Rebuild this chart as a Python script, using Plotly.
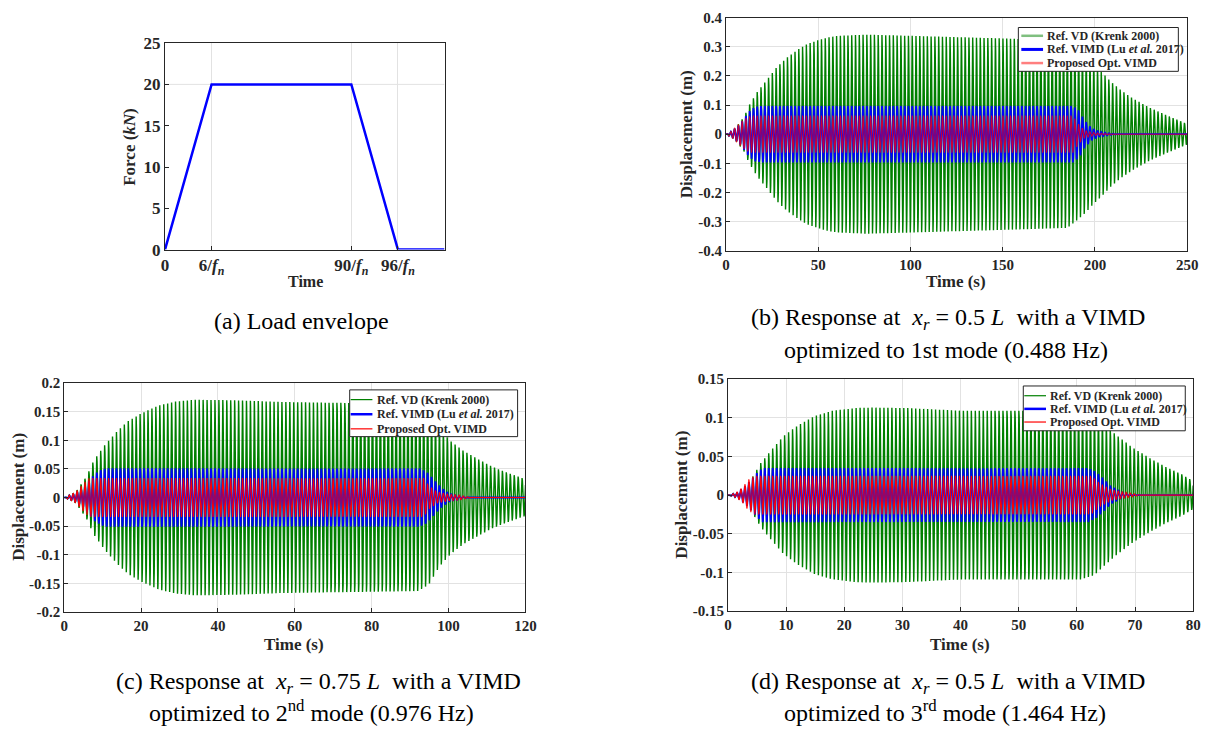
import numpy as np
import plotly.graph_objects as go

W, H = 1218, 734
SERIF = "Liberation Serif, Times New Roman, Times, serif"
INK = "#262626"
GRID = "#e2e2e2"

# ---------------- (a) load envelope on a schematic time axis ----------------
load_time_pos = [0, 1, 4, 5, 6]
load_force_kN = [0, 20, 20, 0, 0]
load_tick_pos = [0, 1, 4, 5]
load_tick_text = ["0",
                  "6/<i>f</i><sub><i>n</i></sub>",
                  "90/<i>f</i><sub><i>n</i></sub>",
                  "96/<i>f</i><sub><i>n</i></sub>"]
force_ticks = [0, 5, 10, 15, 20, 25]

# ---------------- modal frequencies (Hz) and record lengths (s) ----------------
freq_b, freq_c, freq_d = 0.488, 0.976, 1.464
tend_b, tend_c, tend_d = 250, 120, 80

# ---------------- amplitude envelopes: time (s) / amplitude (m) ----------------
# (b) x_r = 0.5 L, 1st mode
b_vd_t = [0, 5, 10, 12.5, 17, 22, 27.5, 33, 38.6, 44, 50, 55.5, 61, 76, 100, 150, 185,
          190, 194.5, 199, 204, 208.5, 214, 220, 229, 238, 250]
b_vd_a = [0, 0.02, 0.062, 0.099, 0.146, 0.185, 0.23, 0.263, 0.289, 0.31, 0.323, 0.333, 0.338,
          0.342, 0.338, 0.329, 0.322, 0.297, 0.272, 0.241, 0.211, 0.181, 0.151, 0.125, 0.093,
          0.067, 0.035]
b_vimd_t = [0, 3, 7.5, 10, 12.5, 15.5, 19, 188, 191.5, 194, 198, 203, 208, 212, 250]
b_vimd_a = [0, 0.01, 0.034, 0.056, 0.078, 0.093, 0.097, 0.097, 0.08, 0.05, 0.022, 0.008,
            0.003, 0, 0]
b_opt_t = [0, 3, 6, 9, 12, 14, 188, 191, 194, 197, 201, 206, 210, 250]
b_opt_a = [0, 0.012, 0.03, 0.048, 0.06, 0.064, 0.064, 0.035, 0.015, 0.008, 0.004, 0.002, 0, 0]

# (c) x_r = 0.75 L, 2nd mode
c_vd_t = [0, 3, 5.8, 7.7, 10.7, 13.8, 16.5, 20, 24.6, 29, 33.6, 40, 47, 56, 69.6, 92, 94.8,
          97.5, 100.5, 104, 107.7, 111.3, 115, 120]
c_vd_a = [0, 0.01, 0.037, 0.065, 0.093, 0.116, 0.133, 0.147, 0.161, 0.168, 0.171, 0.171,
          0.17, 0.168, 0.167, 0.164, 0.153, 0.122, 0.099, 0.081, 0.067, 0.054, 0.044, 0.032]
c_vimd_t = [0, 3, 5.3, 6.7, 8, 9.8, 11, 92.5, 94.3, 95.7, 97, 98.4, 100, 102, 105, 120]
c_vimd_a = [0, 0.008, 0.02, 0.031, 0.042, 0.049, 0.051, 0.051, 0.045, 0.035, 0.025, 0.016,
            0.008, 0.004, 0, 0]
c_opt_t = [0, 3, 5, 6.5, 93.5, 95, 97, 100, 103, 106, 120]
c_opt_a = [0, 0.01, 0.025, 0.034, 0.034, 0.02, 0.01, 0.006, 0.004, 0, 0]

# (d) x_r = 0.5 L, 3rd mode
d_vd_t = [0, 2.9, 4.1, 5.6, 7.1, 9.5, 11.8, 14.8, 17.8, 22, 25, 30.9, 39.8, 48.7, 60.6, 63,
          64.8, 66.6, 69.5, 72.5, 75.4, 78, 80]
d_vd_a = [0, 0.007, 0.022, 0.041, 0.055, 0.076, 0.089, 0.102, 0.109, 0.113, 0.1135, 0.113,
          0.11, 0.11, 0.1097, 0.104, 0.091, 0.079, 0.062, 0.048, 0.036, 0.027, 0.018]
d_vimd_t = [0, 1.5, 3, 4, 4.9, 5.9, 62, 63.3, 64.5, 65.8, 67.5, 69, 80]
d_vimd_a = [0, 0.003, 0.012, 0.02, 0.028, 0.035, 0.035, 0.03, 0.022, 0.012, 0.005, 0, 0]
d_opt_t = [0, 1.3, 2.5, 3.5, 4.5, 62.5, 64, 66, 69, 71, 80]
d_opt_a = [0, 0.003, 0.01, 0.02, 0.025, 0.025, 0.015, 0.007, 0.003, 0, 0]

# ---------------- axis ticks ----------------
b_yticks = [-0.4, -0.3, -0.2, -0.1, 0, 0.1, 0.2, 0.3, 0.4]
b_xticks = [0, 50, 100, 150, 200, 250]
c_yticks = [-0.2, -0.15, -0.1, -0.05, 0, 0.05, 0.1, 0.15, 0.2]
c_xticks = [0, 20, 40, 60, 80, 100, 120]
d_yticks = [-0.15, -0.1, -0.05, 0, 0.05, 0.1, 0.15]
d_xticks = [0, 10, 20, 30, 40, 50, 60, 70, 80]

series_names = ["Ref. VD (Krenk 2000)",
                "Ref. VIMD (Lu <i>et al.</i> 2017)",
                "Proposed Opt. VIMD"]


def fx(px):
    return px / W


def fy(py):
    return 1 - py / H


def response(t_knots, amp_knots, freq, t_stop):
    """Modal response: slowly varying amplitude envelope on the modal carrier."""
    n = int(t_stop * freq * 24) + 1
    t = np.linspace(0, t_stop, n)
    env = np.interp(t, t_knots, amp_knots)
    return t, env * np.sin(2 * np.pi * freq * t)


fig = go.Figure()

# (a) load envelope
fig.add_trace(go.Scatter(x=load_time_pos, y=load_force_kN, mode="lines",
                         line=dict(color="#0000ff", width=2.5),
                         xaxis="x", yaxis="y", showlegend=False))

panels = [
    ("2", freq_b, tend_b, [(b_vd_t, b_vd_a), (b_vimd_t, b_vimd_a), (b_opt_t, b_opt_a)],
     [dict(color="rgb(0,128,0)", width=1.4),
      dict(color="rgb(0,0,255)", width=1.8),
      dict(color="rgba(255,0,0,0.8)", width=1.1)]),
    ("3", freq_c, tend_c, [(c_vd_t, c_vd_a), (c_vimd_t, c_vimd_a), (c_opt_t, c_opt_a)],
     [dict(color="rgb(0,128,0)", width=1.4),
      dict(color="rgb(0,0,255)", width=1.8),
      dict(color="rgb(255,0,0)", width=1.1)]),
    ("4", freq_d, tend_d, [(d_vd_t, d_vd_a), (d_vimd_t, d_vimd_a), (d_opt_t, d_opt_a)],
     [dict(color="rgb(0,128,0)", width=1.4),
      dict(color="rgb(0,0,255)", width=1.8),
      dict(color="rgb(255,0,0)", width=1.1)]),
]

for ax, f, tend, envs, styles in panels:
    for (tk, ak), st, nm in zip(envs, styles, series_names):
        t, y = response(tk, ak, f, tend)
        fig.add_trace(go.Scatter(x=t, y=y, mode="lines", line=st, name=nm,
                                 xaxis="x" + ax, yaxis="y" + ax, showlegend=False,
                                 hoverinfo="skip"))

tick_font = dict(family=SERIF, size=15, color=INK, weight="bold")


def base_axis(dom, rng, ticks, anchor, font=tick_font, grid=True):
    return dict(domain=dom, range=rng, tickvals=ticks,
                ticktext=[f"{v:g}" for v in ticks], anchor=anchor,
                showline=True, linecolor=INK, linewidth=1, mirror=True,
                ticks="inside", ticklen=4, tickcolor=INK,
                showgrid=grid, gridcolor=GRID, gridwidth=1, zeroline=False,
                tickfont=font)


a_font = dict(family=SERIF, size=17, color=INK, weight="bold")
xa = base_axis([fx(163), fx(446)], [0, 6], load_tick_pos, "y", font=a_font)
xa["ticktext"] = load_tick_text
ya = base_axis([fy(247), fy(35)], [0, 25], force_ticks, "x", font=a_font, grid=False)

layout = dict(
    width=W, height=H, margin=dict(l=0, r=0, t=0, b=0),
    paper_bgcolor="white", plot_bgcolor="white",
    font=dict(family=SERIF),
    xaxis=xa, yaxis=ya,
    xaxis2=base_axis([fx(731), fx(1198)], [0, tend_b], b_xticks, "y2"),
    yaxis2=base_axis([fy(248), fy(9)], [-0.4, 0.4], b_yticks, "x2"),
    xaxis3=base_axis([fx(61), fx(528)], [0, tend_c], c_xticks, "y3"),
    yaxis3=base_axis([fy(619), fy(384)], [-0.2, 0.2], c_yticks, "x3"),
    xaxis4=base_axis([fx(733), fx(1204)], [0, tend_d], d_xticks, "y4"),
    yaxis4=base_axis([fy(618), fy(380)], [-0.15, 0.15], d_yticks, "x4"),
)
fig.update_layout(**layout)

shapes = []
annotations = []

# single horizontal reference line at the plateau level of the load envelope
shapes.append(dict(type="line", xref="x", yref="y", x0=0, x1=6, y0=20, y1=20,
                   line=dict(color=GRID, width=1), layer="below"))


def text(x, y, s, size, bold=True, angle=0, anchor="center"):
    annotations.append(dict(x=fx(x), y=fy(y), xref="paper", yref="paper", text=s,
                            showarrow=False, xanchor=anchor, yanchor="middle",
                            textangle=angle,
                            font=dict(family=SERIF, size=size, color=INK if bold else "black",
                                      weight="bold" if bold else "normal")))


# axis titles
text(127, 141, "Force (<i>kN</i>)", 17, angle=-90)
text(305, 280, "Time", 16)
text(691, 128, "Displacement (m)", 17, angle=-90)
text(964, 280, "Time (s)", 17)
text(14, 501, "Displacement (m)", 17, angle=-90)
text(294, 652, "Time (s)", 17)
text(686, 499, "Displacement (m)", 17, angle=-90)
text(968, 652, "Time (s)", 17)


# legends
def legend(box, rows, line_x, text_x, styles):
    shapes.append(dict(type="rect", xref="paper", yref="paper",
                       x0=fx(box[0]), x1=fx(box[2]), y0=fy(box[3]), y1=fy(box[1]),
                       line=dict(color=INK, width=1), fillcolor="white", layer="above"))
    for y, st, nm in zip(rows, styles, series_names):
        shapes.append(dict(type="line", xref="paper", yref="paper",
                           x0=fx(line_x[0]), x1=fx(line_x[1]), y0=fy(y), y1=fy(y),
                           line=st, layer="above"))
        text(text_x, y, nm, 12, anchor="left")


legend((1027, 19, 1189, 64), [27.5, 41.5, 55.5], (1030, 1052), 1054,
       [dict(color="rgba(0,128,0,0.5)", width=2.5), dict(color="#0000ff", width=3),
        dict(color="rgba(255,0,0,0.5)", width=2.5)])
legend((350, 391, 520, 439), [401, 416, 431], (351, 373), 376,
       [dict(color="rgb(0,128,0)", width=1.2), dict(color="#0000ff", width=2.5),
        dict(color="#ff0000", width=1.2)])
legend((1032, 387, 1196, 433), [397, 410.5, 424], (1033, 1055), 1057,
       [dict(color="rgb(0,128,0)", width=1.2), dict(color="#0000ff", width=2.5),
        dict(color="#ff0000", width=1.2)])

# panel captions
NB = "\u00a0"
xr = f"{NB}<i>x</i><sub><i>r</i></sub>{NB}="
text(301, 320, "(a) Load envelope", 24, bold=False)
text(754, 318, f"(b) Response at{NB}{xr} 0.5 <i>L</i>{NB} with a VIMD", 24, bold=False, anchor="left")
text(788, 350, "optimized to 1st mode (0.488 Hz)", 24, bold=False, anchor="left")
text(111, 692, f"(c) Response at{NB}{xr} 0.75 <i>L</i>{NB} with a VIMD", 24, bold=False, anchor="left")
text(145, 721, "optimized to 2<sup>nd</sup> mode (0.976 Hz)", 24, bold=False, anchor="left")
text(754, 692, f"(d) Response at{NB}{xr} 0.5 <i>L</i>{NB} with a VIMD", 24, bold=False, anchor="left")
text(788, 721, "optimized to 3<sup>rd</sup> mode (1.464 Hz)", 24, bold=False, anchor="left")

fig.update_layout(shapes=shapes, annotations=annotations)
fig.write_html("out.html")
